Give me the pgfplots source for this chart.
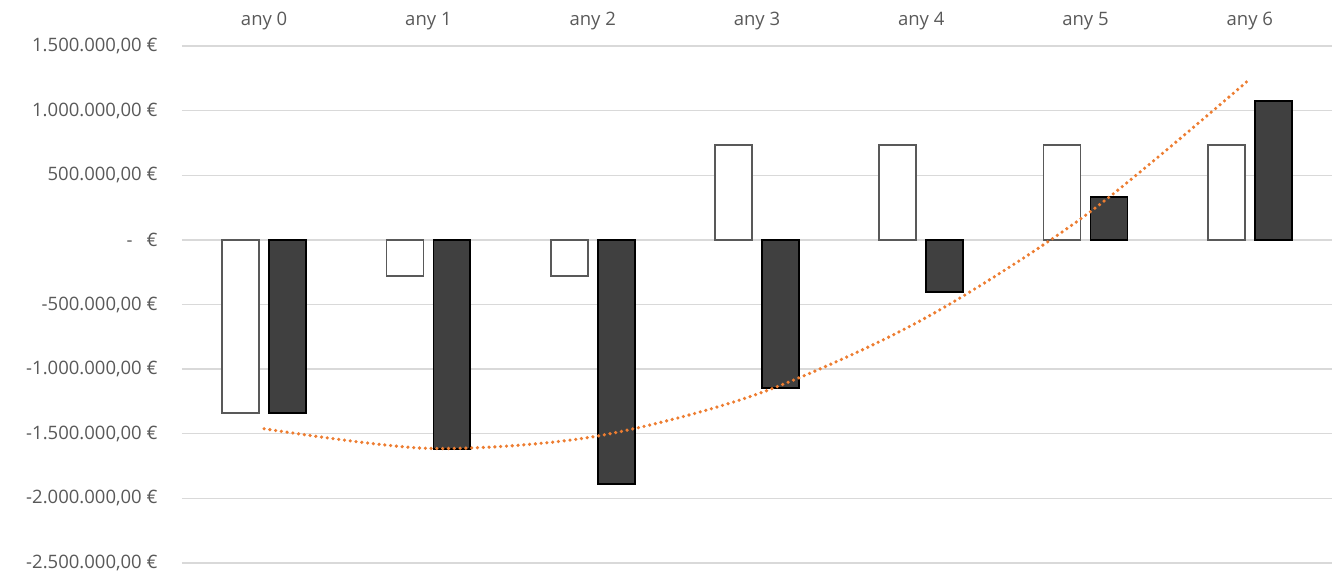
\documentclass[border=0pt]{standalone}
\usepackage{pgfplots}
\pgfplotsset{compat=1.18}
\usepackage{fontspec}
\setmainfont{Open Sans}
\definecolor{txt}{HTML}{595959}
\definecolor{gridc}{HTML}{D9D9D9}
\definecolor{dark}{HTML}{404040}
\definecolor{trend}{HTML}{ED7D31}
\begin{document}
\begin{tikzpicture}[x=1pt,y=1pt]
\path[use as bounding box] (0,0) rectangle (1341,576);
\begin{axis}[
  at={(182pt,13pt)}, anchor=south west,
  scale only axis, width=1150pt, height=517pt,
  xmin=-0.5, xmax=6.5, ymin=-2500000, ymax=1500000,
  axis line style={draw=none},
  tick style={draw=none},
  xtick={0,...,6},
  xticklabels={any 0,any 1,any 2,any 3,any 4,any 5,any 6},
  xticklabel pos=upper,
  xticklabel style={font=\fontsize{18.5}{20}\selectfont, text=txt, anchor=base, yshift=16pt},
  ytick={-2500000,-2000000,-1500000,-1000000,-500000,0,500000,1000000,1500000},
  yticklabels={{-2.500.000,00 €},{-2.000.000,00 €},{-1.500.000,00 €},{-1.000.000,00 €},{-500.000,00 €},{-\hspace{0.75em}€},{500.000,00 €},{1.000.000,00 €},{1.500.000,00 €}},
  yticklabel style={font=\fontsize{18.5}{20}\selectfont, text=txt, anchor=east, xshift=-21pt},
  scaled y ticks=false,
  ymajorgrids, xmajorgrids=false, major grid style={draw=gridc, line width=1.4pt},
  ybar, bar width=0.225,
  clip=false,
]
\addplot[bar shift=-0.143, fill=white, draw=txt, line width=1.8pt] coordinates {
(0,-1338000) (1,-278000) (2,-278000) (3,735000) (4,735000) (5,735000) (6,735000)};
\addplot[bar shift=0.143, fill=dark, draw=black, line width=1.8pt] coordinates {
(0,-1338000) (1,-1616000) (2,-1887000) (3,-1145000) (4,-402000) (5,333000) (6,1075000)};
\addplot[sharp plot, smooth, trend, line width=3.6pt, line cap=round, dash pattern=on 0pt off 5.8pt] coordinates {
(0,-1461000) (1,-1613000) (2,-1524000) (3,-1194000) (4,-622000) (5,190000) (6,1244000)};
\end{axis}
\end{tikzpicture}
\end{document}
